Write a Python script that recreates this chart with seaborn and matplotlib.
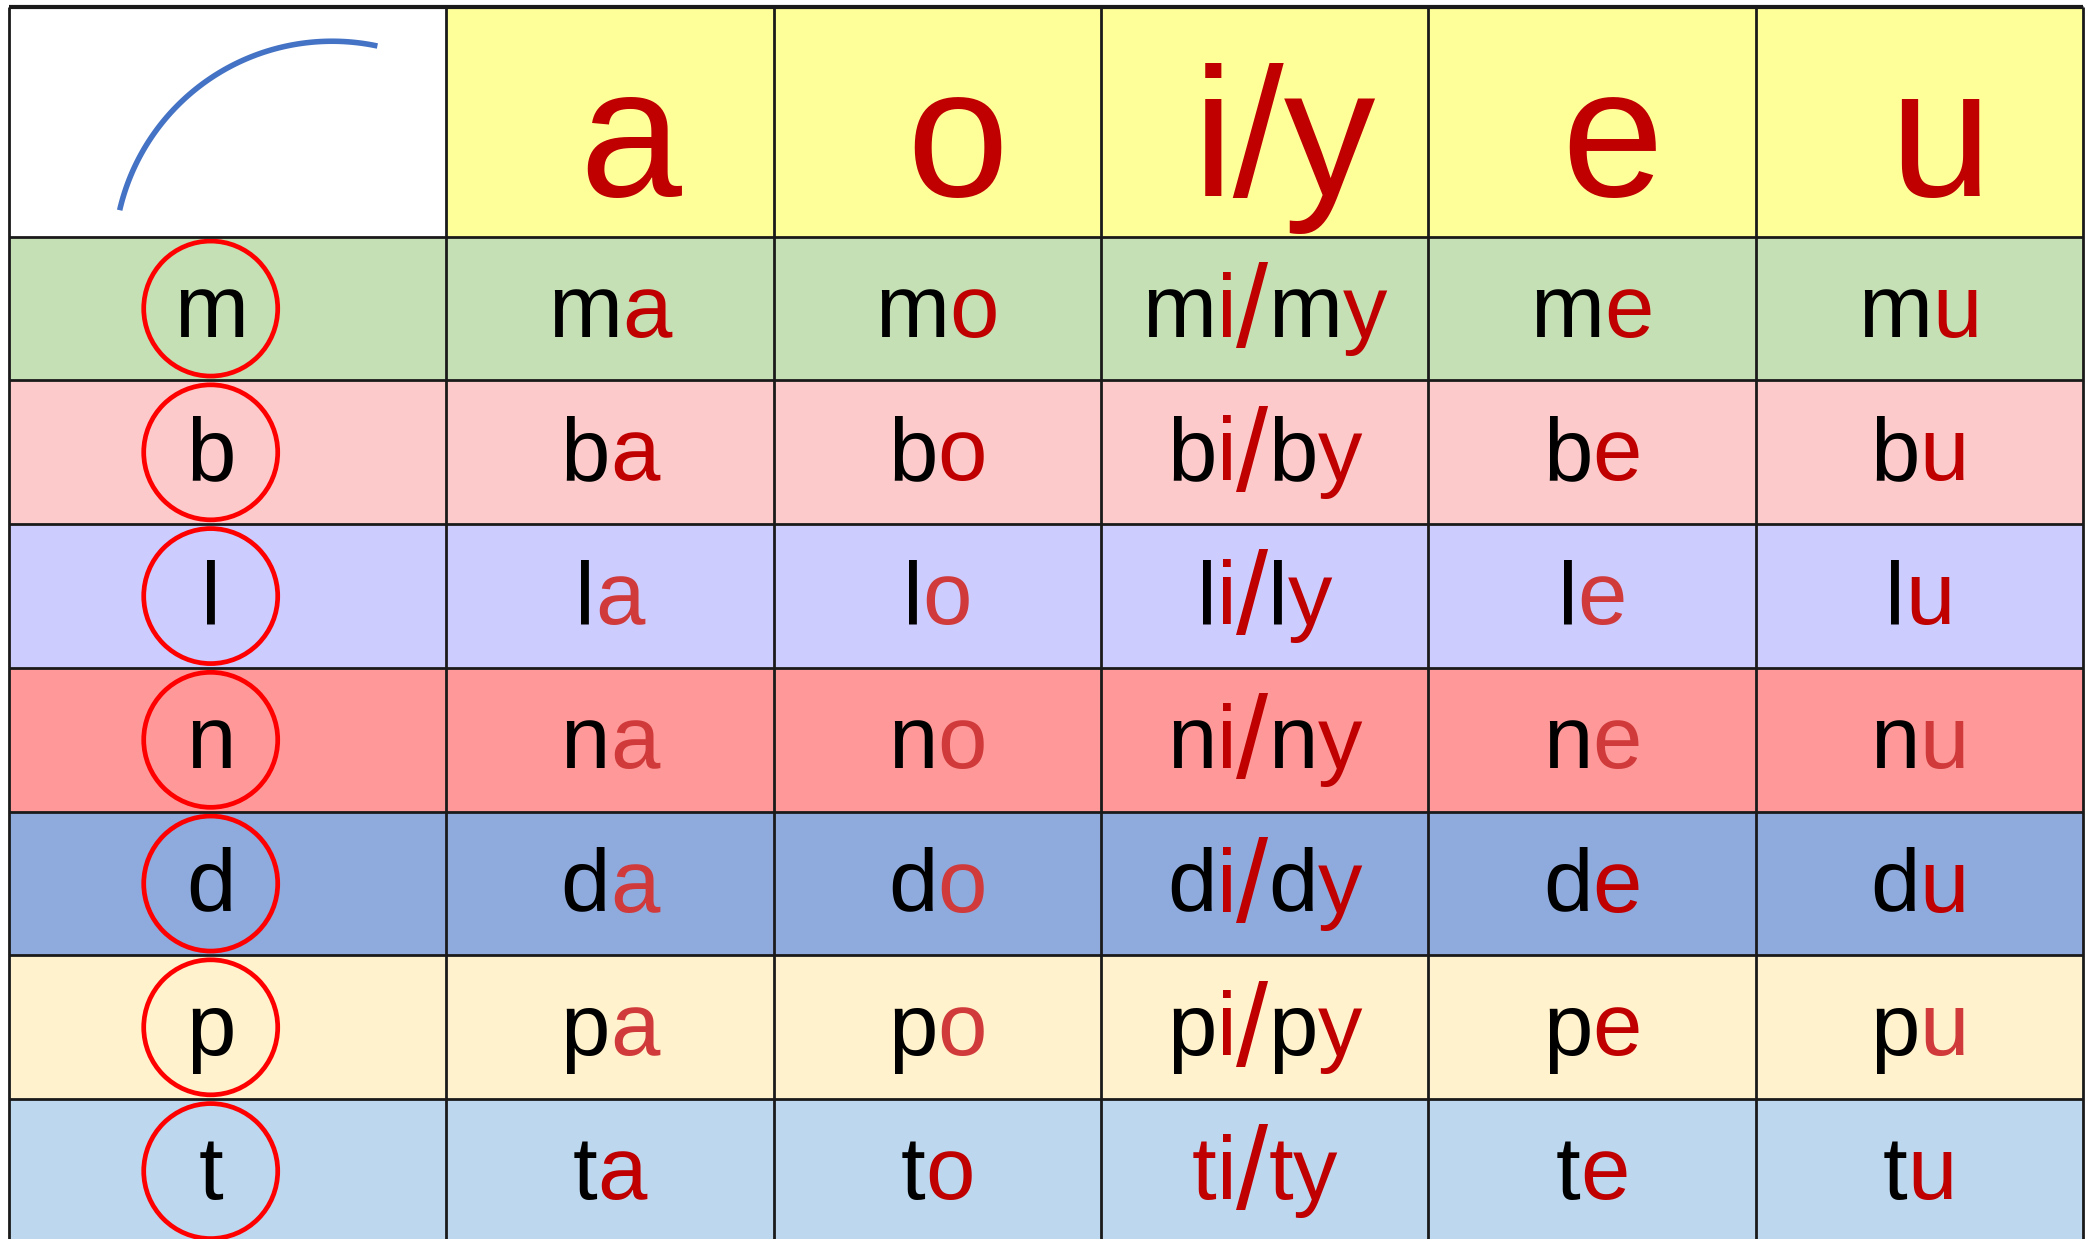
import numpy as np
import matplotlib
matplotlib.use('Agg')
import matplotlib.pyplot as plt
import seaborn as sns
from matplotlib import font_manager
from matplotlib.colors import ListedColormap
from matplotlib.patches import Ellipse

# table content
consonants = ['m', 'b', 'l', 'n', 'd', 'p', 't']
vowels = ['a', 'o', 'i/y', 'e', 'u']
row_colors = ['#C5E0B4', '#FCCACA', '#CCCCFF', '#FF9999', '#8FAADC', '#FFF2CC', '#BDD7EE']
header_color = '#FFFF99'
corner_color = '#FFFFFF'
all_red_cells = [('t', 'i/y')]
# cells whose vowel is printed in the lighter red
light_cells = [('l', 'a'), ('l', 'o'), ('l', 'e'), ('n', 'a'), ('n', 'o'), ('n', 'e'), ('n', 'u'),
               ('d', 'a'), ('d', 'o'), ('p', 'a'), ('p', 'o'), ('p', 'u')]

INK = '#000000'
RED = '#C00000'
LIGHT_RED = '#D03A3A'
RING = '#FF0000'
ARC = '#4472C4'
LINE = '#1a1a1a'

# relative cell sizes (first column wider, header row taller)
col_units = [4, 3, 3, 3, 3, 3]
row_units = [8] + [5] * len(consonants)
PX_X = 2074 / sum(col_units)
PX_Y = 28.75


def pick_font():
    for name in ['Liberation Sans Narrow', 'DejaVu Sans Condensed', 'Liberation Sans']:
        try:
            font_manager.findfont(font_manager.FontProperties(family=name), fallback_to_default=False)
            return name
        except ValueError:
            pass
    return 'DejaVu Sans'


def cell_matrix():
    palette = [corner_color, header_color] + row_colors
    idx = np.zeros((len(row_units), len(col_units)), dtype=int)
    idx[0, 1:] = 1
    for i in range(len(consonants)):
        idx[i + 1, :] = i + 2
    grid = np.repeat(np.repeat(idx, row_units, axis=0), col_units, axis=1)
    return grid, palette


def syllable(c, v):
    first = RED if (c, v) in all_red_cells else INK
    red = LIGHT_RED if (c, v) in light_cells else RED
    if '/' in v:
        v1, v2 = v.split('/')
        return [(c, first), (v1, red), ('/', red), (c, first), (v2, red)]
    return [(c, first), (v, red)]


def write(ax, renderer, x, y, parts, size):
    # the slash is drawn taller and dropped a little below the baseline
    texts, drops = [], []
    for s, col in parts:
        k = 1.3 if s == '/' else 1.0
        texts.append(ax.text(x, y, s, color=col, fontsize=size * k, va='baseline', ha='left'))
        drops.append(size * 0.16 if s == '/' else 0.0)
    widths = [t.get_window_extent(renderer).width for t in texts]
    px, py = ax.transData.transform((x, y))
    left = px - sum(widths) / 2
    inv = ax.transData.inverted()
    for t, w, d in zip(texts, widths, drops):
        t.set_position(inv.transform((left, py - d)))
        left += w


sns.set_theme(style='white')
plt.rcParams['font.family'] = [pick_font(), 'DejaVu Sans']

fig = plt.figure(figsize=(20.87, 12.39), dpi=100)
total_h = sum(row_units) * PX_Y
ax = fig.add_axes([9.4 / 2087, (1239 - 6.7 - total_h) / 1239, 2074 / 2087, total_h / 1239])

grid, palette = cell_matrix()
sns.heatmap(grid, cmap=ListedColormap(palette), vmin=-0.5, vmax=len(palette) - 0.5,
            cbar=False, ax=ax, xticklabels=False, yticklabels=False)

xe = np.cumsum([0] + col_units)
ye = np.cumsum([0] + row_units)
xc = (xe[:-1] + xe[1:]) / 2
yc = (ye[:-1] + ye[1:]) / 2
ax.vlines(xe, ye[0], ye[-1], colors=LINE, lw=2.0, clip_on=False)
ax.hlines(ye, xe[0], xe[-1], colors=LINE, lw=2.0, clip_on=False)
ax.hlines(ye[0], xe[0], xe[-1], colors=LINE, lw=3.0, clip_on=False)

renderer = fig.canvas.get_renderer()

# corner arc: part of a circle whose centre sits just below the corner cell
w0, h0 = xe[1] - xe[0], ye[1] - ye[0]
th = np.radians(np.linspace(167, 78, 120))
r_px = 218
ax.plot(xe[0] + 0.739 * w0 + r_px / PX_X * np.cos(th),
        ye[0] + 1.098 * h0 - r_px / PX_Y * np.sin(th), color=ARC, lw=4, solid_capstyle='butt')

# header vowels
for j, v in enumerate(vowels):
    write(ax, renderer, xc[j + 1] + 20 / PX_X, yc[0] + 74 / PX_Y, [(v, RED)], 132)

# consonant column and syllables
ring_x = xc[0] - 17 / PX_X
for i, c in enumerate(consonants):
    y = yc[i + 1]
    ax.add_patch(Ellipse((ring_x, y), 134 / PX_X, 135 / PX_Y, fill=False, ec=RING, lw=3.4))
    write(ax, renderer, ring_x, y + 28 / PX_Y, [(c, INK)], 64)
    for j, v in enumerate(vowels):
        write(ax, renderer, xc[j + 1], y + 28 / PX_Y, syllable(c, v), 64)

fig.savefig('out.png', dpi=100)
